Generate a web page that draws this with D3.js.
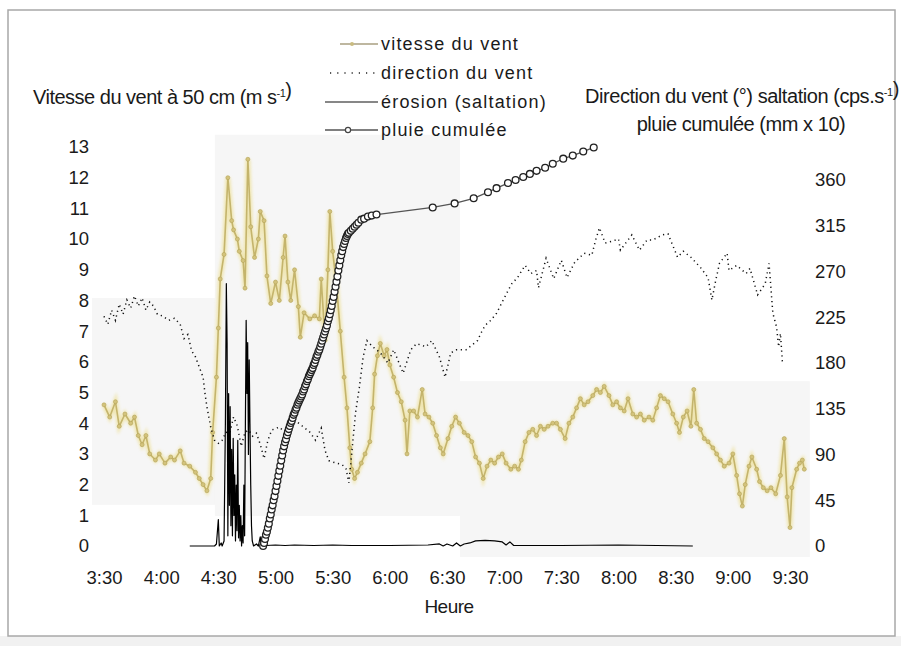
<!DOCTYPE html>
<html>
<head>
<meta charset="utf-8">
<script src="https://cdn.jsdelivr.net/npm/d3@7"></script>
<style>
  html, body { margin: 0; padding: 0; background: #fff; }
  svg { display: block; font-family: "Liberation Sans", Arial, Helvetica, sans-serif; }
</style>
</head>
<body>
<svg id="chart" width="901" height="646"></svg>
<script>
// ---- Data (time = minutes elapsed since 3:30) ----
// Wind speed at 50 cm (m s-1), left axis
const windSpeed = [
  [0,4.6],[3,4.2],[6,4.7],[8,3.9],[11,4.3],[14,4.0],[16,4.2],[18,3.6],[20,3.3],[22,3.6],
  [24,3.0],[27,2.8],[29,3.0],[32,2.7],[35,2.9],[37,2.8],[40,3.1],[42,2.7],[45,2.6],[48,2.4],
  [50,2.2],[52,2.0],[54,1.8],[56,2.2],[57,3.7],[59,5.5],[60,7.1],[61,8.7],[63,9.5],[65,12.0],
  [67,10.6],[68,10.3],[70,10.0],[71,9.6],[73,9.3],[74,8.4],[75.5,12.6],[77,10.4],[79,9.4],[81,10.0],
  [82,10.9],[84,10.6],[85.5,8.8],[87.5,7.9],[90,8.6],[92,8.0],[94,9.4],[95,10.1],[96.5,8.6],[98,8.0],
  [100,9.0],[102,7.8],[103,6.8],[105,7.6],[108,7.4],[110.5,7.5],[113,7.4],[114,8.7],[116,6.7],[117.5,9.0],
  [118.5,10.9],[120,9.6],[122,8.5],[124,7.0],[126,5.5],[127.5,4.5],[129,3.2],[130,2.5],[131.5,2.2],[133,2.4],
  [135,2.7],[137,3.0],[139.5,3.4],[141,4.5],[142,5.6],[143.5,6.2],[145,6.6],[147,6.2],[148.5,6.4],[150,5.9],
  [152,5.5],[154,5.0],[156,4.7],[158,4.1],[159,3.0],[160.5,4.4],[162.5,4.4],[164.5,4.2],[167,5.1],[168.5,4.3],
  [170.5,4.2],[172.5,4.0],[174.5,3.6],[176.5,3.2],[178,3.0],[180.5,3.5],[182.5,3.9],[184.5,4.2],[186.5,4.0],[189,3.7],
  [191,3.6],[193,3.4],[195,2.9],[197,2.7],[199,2.2],[201,2.6],[203,2.8],[205,2.7],[207,2.9],[209,3.0],
  [211,2.7],[213.5,2.5],[215.5,2.6],[217.5,2.5],[219,2.8],[221,3.4],[223,3.7],[225,3.8],[227,3.6],[229,3.9],
  [231,3.8],[233,3.9],[235.5,4.0],[237.5,4.0],[239.5,3.8],[242,3.5],[244,4.0],[246,4.2],[248,4.5],[250,4.8],
  [252,4.6],[254,4.7],[256.5,4.9],[258.5,5.1],[260.5,5.0],[262.5,5.2],[265,4.9],[267,4.6],[269,4.7],[271,4.5],
  [273,4.4],[275,4.8],[277.5,4.3],[279.5,4.2],[281.5,4.3],[283.5,4.1],[286,4.2],[288,4.1],[290,4.5],[292,4.9],
  [294,4.8],[296,4.7],[298.5,4.3],[300.5,4.0],[302,3.7],[304,4.2],[306,4.4],[308,3.9],[309.5,5.1],[311,4.0],
  [313,3.8],[315,3.5],[317,3.4],[319.5,3.2],[321.5,3.0],[323.5,2.8],[325.5,2.6],[328,2.7],[330,3.0],[332,2.3],
  [333.5,1.7],[335,1.3],[336.5,2.0],[338.5,2.6],[340,2.9],[342.5,2.5],[344,2.1],[346,1.9],[348,1.8],[350,1.9],
  [352.5,1.7],[355,2.3],[357,3.5],[358.5,1.6],[360,0.6],[361,1.9],[363.5,2.5],[365,2.7],[366.5,2.8],[367.5,2.5]
];

// Wind direction (degrees), right axis
const windDirection = [
  [0,226],[2,218],[4,232],[6,222],[8,238],[10,228],[12,242],[14,234],[16,246],[18,236],
  [20,244],[22,232],[24,240],[26,236],[28,228],[31,226],[34,222],[37,224],[40,218],[42,204],
  [44,208],[46,192],[48,186],[50,176],[52,166],[53,150],[54,137],[56,117],[58,104],[60,101],
  [62,104],[64,112],[66,111],[68,127],[70,118],[72,98],[74,112],[76,114],[78,108],[80,111],
  [82,100],[84,86],[86,104],[88,114],[92,117],[96,110],[100,124],[104,118],[108,112],[111,104],
  [114,116],[116,94],[118,84],[121,82],[125,80],[127,76],[128.5,62],[130,91],[132,131],[134,156],
  [136,186],[138,202],[141,196],[145,190],[149,180],[152,193],[157,170],[161,193],[164,199],[169,196],
  [172,202],[176,186],[179,166],[182,190],[185,193],[190,193],[196,202],[198,210],[200,217],[203,222],
  [206,229],[209,240],[212,251],[214,258],[217,264],[221,276],[224,268],[227,271],[228,254],[232,283],
  [236,263],[240,281],[243,264],[247,279],[252,288],[256,286],[258,301],[260,313],[263,298],[267,300],
  [270,302],[271,291],[277,306],[281,291],[285,301],[288,301],[293,306],[296,307],[301,284],[304,290],
  [308,284],[313,274],[317,264],[319,242],[321,261],[323,278],[327,288],[328,271],[332,276],[337,268],
  [339,273],[343,247],[347,258],[349,278],[351,229],[353,215],[354,196],[355,209],[356,181]
];

// Erosion, saltation counts (cps.s-1), right axis
const saltation = [
  [45,0],[58,0],[59,2],[60,26],[60.5,0],[61.5,3],[62,0],[63,5],[63.7,120],[64.2,258],
  [64.6,200],[65,10],[65.4,150],[65.8,40],[66.2,137],[66.6,20],[67,95],[67.4,10],[67.8,106],[68.2,30],
  [68.6,70],[69,5],[69.4,60],[69.8,15],[70.2,104],[70.6,8],[71,40],[71.4,5],[71.8,30],[72.2,0],
  [72.6,20],[73,3],[73.4,60],[73.8,10],[74.2,120],[74.6,222],[75,150],[75.4,200],[75.8,90],[76.2,183],
  [76.6,120],[77,60],[77.4,20],[77.8,5],[78.5,0],[80,2],[81,0],[82,9],[82.5,1],[84,3],
  [85,0.5],[90,1],[95,0.5],[100,1],[110,0.5],[120,1],[130,0.5],[150,0.5],[170,1],[176,2],
  [178,0],[180,2],[183,0],[185,3],[187,0],[189,2],[192,3],[195,5],[200,5.5],[205,5],
  [209,4],[211,1],[213,4],[215,0.5],[240,0.5],[270,1],[290,0.5],[309,0]
];

// Cumulative rainfall (mm x 10), right axis
const rainCumul = [
  [83.5,0],[84,3],[84.5,7],[85,11],[85.5,14],[86,18],[86.5,22],[87,27],[87.5,31],[88,36],
  [88.5,40],[89,45],[89.5,49],[90,54],[90.5,59],[91,64],[91.5,69],[92,74],[92.5,79],[93,84],
  [93.5,89],[94,94],[94.5,98],[95,102],[95.5,105],[96,109],[96.5,112],[97,115],[97.5,118],[98,121],
  [98.5,123],[99,126],[99.5,129],[100,131],[100.5,134],[101,136],[101.5,139],[102,141],[102.5,143],[103,145],
  [103.5,147],[104,149],[104.5,152],[105,154],[105.5,157],[106,159],[106.5,162],[107,164],[107.5,167],[108,169],
  [108.5,171],[109,173],[109.5,175],[110,178],[110.5,180],[111,183],[111.5,186],[112,188],[112.5,191],[113,193],
  [113.5,196],[114,199],[114.5,202],[115,205],[115.5,208],[116,211],[116.5,214],[117,217],[117.5,221],[118,224],
  [118.5,228],[119,232],[119.5,236],[120,241],[120.5,245],[121,250],[121.5,255],[122,260],[122.5,265],[123,271],
  [123.5,276],[124,281],[124.5,286],[125,290],[125.5,294],[126,297],[126.5,300],[127,303],[127.5,305],[128,307],
  [128.5,308],[129.5,310],[130.5,312],[131.5,314],[132.5,316],[133.5,318],[135,321],[136.5,322],[138.5,324],[140.5,325],
  [143,326],[172.5,333],[184,337],[194,342],[201.5,348],[206,352],[212,357],[216,360],[220,363],[223.5,366],
  [227,369],[231.5,372],[235.5,376],[241,381],[246,384],[251.5,388],[257,392]
];

// Axis ticks
const speedTicks = d3.range(0, 14);
const rightTicks = [0, 45, 90, 135, 180, 225, 270, 315, 360];

// Light scan patches behind the traces: [fromMin, toMin, topSpeed, bottomSpeed]
const patches = [
  [-6.3, 58.2, 8.08, 1.34],
  [58.2, 186.8, 13.4, 0.98],
  [186.8, 370.4, 5.37, -0.36]
];

// ---- Scales ----
const t0 = new Date(2000, 0, 1, 3, 30);
const toDate = m => new Date(t0.getTime() + m * 60000);
const x = d3.scaleTime().domain([toDate(0), toDate(360)]).range([104, 790]);
const yL = d3.scaleLinear().domain([0, 13]).range([546, 147]);
const yR = d3.scaleLinear().domain([0, 360]).range([546, 180]);

const svg = d3.select("#chart");

const defs = svg.append("defs");
defs.append("filter").attr("id", "glow").attr("x", "-5%").attr("y", "-5%").attr("width", "110%").attr("height", "110%")
  .append("feGaussianBlur").attr("stdDeviation", 1.6);

// Frame
svg.append("rect").attr("x", 0).attr("y", 636).attr("width", 901).attr("height", 10).attr("fill", "#f1f1f1");
svg.append("rect").attr("x", 8).attr("y", 10).attr("width", 887).attr("height", 626)
  .attr("fill", "#fff").attr("stroke", "#a8a8a8").attr("stroke-width", 1.5);

// Scan patches
svg.append("g").selectAll("rect").data(patches).join("rect")
  .attr("x", d => x(toDate(d[0])))
  .attr("y", d => yL(d[2]))
  .attr("width", d => x(toDate(d[1])) - x(toDate(d[0])))
  .attr("height", d => yL(d[3]) - yL(d[2]))
  .attr("fill", "#f6f6f6");

// Wind speed
const speedLine = d3.line().x(d => x(toDate(d[0]))).y(d => yL(d[1]));
svg.append("path").datum(windSpeed).attr("d", speedLine)
  .attr("fill", "none").attr("stroke", "#eee2a0").attr("stroke-width", 5).attr("opacity", 0.8)
  .attr("filter", "url(#glow)");
svg.append("path").datum(windSpeed).attr("d", speedLine)
  .attr("fill", "none").attr("stroke", "#c4b46c").attr("stroke-width", 1.6).attr("stroke-linejoin", "round");
svg.append("g").selectAll("circle").data(windSpeed).join("circle")
  .attr("cx", d => x(toDate(d[0]))).attr("cy", d => yL(d[1])).attr("r", 2)
  .attr("fill", "#d3c37c").attr("stroke", "#b3a358").attr("stroke-width", 0.6);

// Wind direction (dotted)
const rLine = d3.line().x(d => x(toDate(d[0]))).y(d => yR(d[1]));
svg.append("path").datum(windDirection).attr("d", rLine)
  .attr("fill", "none").attr("stroke", "#111").attr("stroke-width", 1.5)
  .attr("stroke-dasharray", "1.2,3.6");

// Saltation
svg.append("path").datum(saltation).attr("d", rLine)
  .attr("fill", "none").attr("stroke", "#000").attr("stroke-width", 1.2).attr("stroke-linejoin", "round");

// Cumulative rain
svg.append("path").datum(rainCumul).attr("d", rLine)
  .attr("fill", "none").attr("stroke", "#555").attr("stroke-width", 1.3);
svg.append("g").selectAll("circle").data(rainCumul).join("circle")
  .attr("cx", d => x(toDate(d[0]))).attr("cy", d => yR(d[1])).attr("r", 3.4)
  .attr("fill", "#fff").attr("stroke", "#222").attr("stroke-width", 1.3);

// ---- Axes (labels only) ----
const fs = 18.5;
const gl = svg.append("g").attr("transform", "translate(89,0)")
  .call(d3.axisLeft(yL).tickValues(speedTicks).tickSize(0).tickPadding(0));
const gr = svg.append("g").attr("transform", "translate(815,0)")
  .call(d3.axisRight(yR).tickValues(rightTicks).tickSize(0).tickPadding(0));
const gb = svg.append("g").attr("transform", "translate(0,571)")
  .call(d3.axisBottom(x).ticks(d3.timeMinute.every(30)).tickFormat(d3.timeFormat("%-H:%M")).tickSize(0).tickPadding(0));
[gl, gr, gb].forEach(g => {
  g.select(".domain").remove();
  g.attr("font-family", null).attr("font-size", fs);
  g.selectAll("text").attr("fill", "#1a1a1a");
});

// Axis titles
function titleWithSup(sel, parts) {
  parts.forEach(p => {
    if (p.sup) {
      sel.append("tspan").attr("font-size", 11).attr("dy", -7).text(p.t);
      sel.append("tspan").attr("dy", 7).text("");
    } else {
      sel.append("tspan").text(p.t);
    }
  });
}
const titleSize = 20, titleSpacing = -0.5;
const tl = svg.append("text").attr("x", 33).attr("y", 104).attr("font-size", titleSize)
  .attr("letter-spacing", titleSpacing).attr("fill", "#1a1a1a");
titleWithSup(tl, [{t: "Vitesse du vent à 50 cm (m s"}, {t: "-1", sup: true}, {t: ")"}]);

const tr1 = svg.append("text").attr("x", 742).attr("y", 103).attr("text-anchor", "middle")
  .attr("font-size", titleSize).attr("letter-spacing", -0.45).attr("fill", "#1a1a1a");
titleWithSup(tr1, [{t: "Direction du vent (°) saltation (cps.s"}, {t: "-1", sup: true}, {t: ")"}]);
svg.append("text").attr("x", 741).attr("y", 131).attr("text-anchor", "middle")
  .attr("font-size", titleSize).attr("letter-spacing", -0.45).attr("fill", "#1a1a1a")
  .text("pluie cumulée (mm x 10)");

svg.append("text").attr("x", 449).attr("y", 613).attr("text-anchor", "middle")
  .attr("font-size", 19).attr("letter-spacing", -0.5).attr("fill", "#1a1a1a").text("Heure");

// ---- Legend ----
const legendItems = ["vitesse du vent", "direction du vent", "érosion (saltation)", "pluie cumulée"];
const legY = [44, 73, 102, 130];
const lg = svg.append("g");
legendItems.forEach((name, i) => {
  lg.append("text").attr("x", 381).attr("y", legY[i] + 6).attr("font-size", 18)
    .attr("letter-spacing", 1.2).attr("fill", "#1a1a1a").text(name);
});
// speed sample
lg.append("line").attr("x1", 326).attr("x2", 378).attr("y1", legY[0]).attr("y2", legY[0])
  .attr("stroke", "#eee2a0").attr("stroke-width", 4).attr("filter", "url(#glow)");
lg.append("line").attr("x1", 340).attr("x2", 378).attr("y1", legY[0]).attr("y2", legY[0])
  .attr("stroke", "#a89f80").attr("stroke-width", 1.4);
lg.append("circle").attr("cx", 352).attr("cy", legY[0]).attr("r", 2).attr("fill", "#c9bb80");
// direction sample
lg.append("line").attr("x1", 330).attr("x2", 378).attr("y1", legY[1]).attr("y2", legY[1])
  .attr("stroke", "#222").attr("stroke-width", 1.4).attr("stroke-dasharray", "1.2,6");
// saltation sample
lg.append("line").attr("x1", 325).attr("x2", 378).attr("y1", legY[2]).attr("y2", legY[2])
  .attr("stroke", "#111").attr("stroke-width", 1.1);
// rain sample
lg.append("line").attr("x1", 325).attr("x2", 378).attr("y1", legY[3]).attr("y2", legY[3])
  .attr("stroke", "#555").attr("stroke-width", 1.4);
lg.append("circle").attr("cx", 348).attr("cy", legY[3]).attr("r", 2.6)
  .attr("fill", "#fff").attr("stroke", "#444").attr("stroke-width", 1.2);
</script>
</body>
</html>
